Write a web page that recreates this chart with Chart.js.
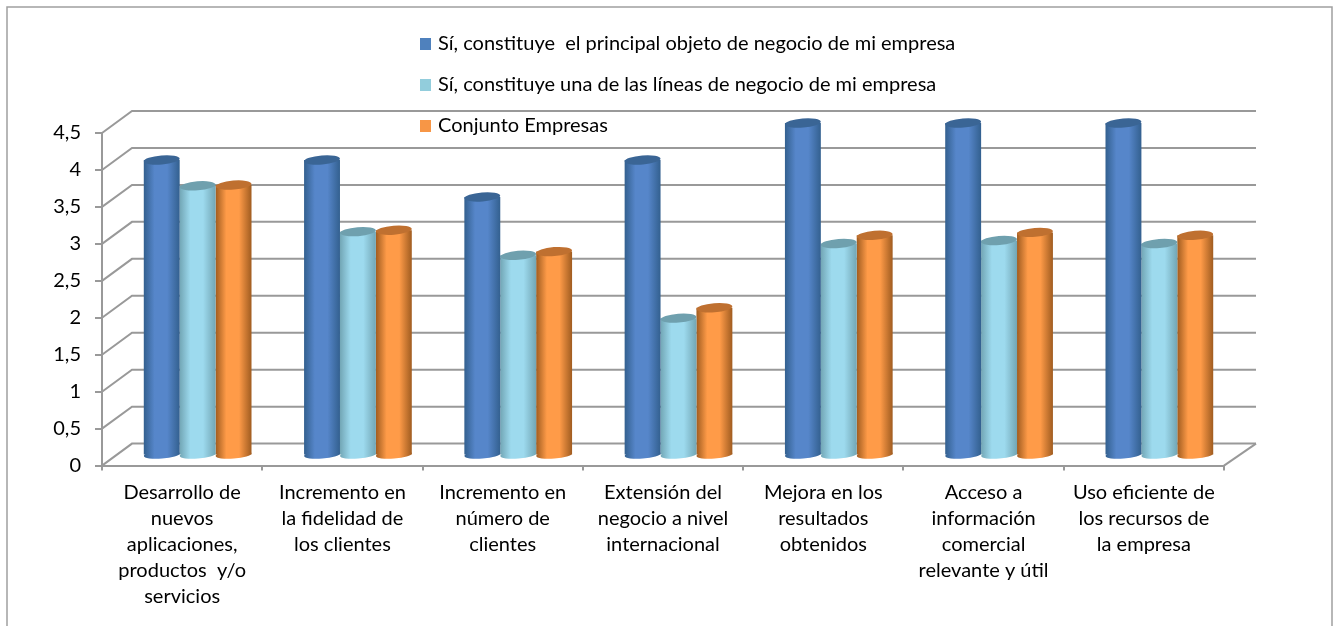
<!DOCTYPE html>
<html>
<head>
<meta charset="utf-8">
<script src="https://cdn.jsdelivr.net/npm/chart.js@4"></script>
<style>
  html, body { margin: 0; padding: 0; background: #fff; }
  canvas { display: block; }
</style>
</head>
<body>
<canvas id="chart" width="1338" height="626"></canvas>
<script>
const categories = [
  ['Desarrollo de', 'nuevos', 'aplicaciones,', 'productos  y/o', 'servicios'],
  ['Incremento en', 'la fidelidad de', 'los clientes'],
  ['Incremento en', 'número de', 'clientes'],
  ['Extensión del', 'negocio a nivel', 'internacional'],
  ['Mejora en los', 'resultados', 'obtenidos'],
  ['Acceso a', 'información', 'comercial', 'relevante y útil'],
  ['Uso eficiente de', 'los recursos de', 'la empresa']
];
const principal = [4, 4, 3.5, 4, 4.5, 4.5, 4.5];
const lineas = [3.65, 3.03, 2.71, 1.86, 2.87, 2.91, 2.87];
const conjunto = [3.66, 3.05, 2.76, 2.0, 2.98, 3.02, 2.98];

const FONT = 'Lato, Carlito, sans-serif';
const GREY = '#999999';
// how far the back wall sits behind the axes, bars stand about half way
const DEPTH_X = 30, DEPTH_Y = 22;

// edge, centre, top of each cylinder
const shades = [
  ['#33608f', '#5686ca', '#3a6595'],
  ['#72a6b5', '#9ddaee', '#6fa0ae'],
  ['#a05c20', '#ff9b48', '#bf7030']
];

const cylinders = {
  id: 'cylinders',
  beforeDatasetsDraw(chart) {
    const ctx = chart.ctx, y = chart.scales.y, area = chart.chartArea;
    // back wall
    ctx.save();
    ctx.strokeStyle = GREY;
    ctx.lineWidth = 2;
    y.ticks.forEach(t => {
      const py = y.getPixelForValue(t.value);
      ctx.beginPath();
      ctx.moveTo(area.left, py);
      ctx.lineTo(area.left + DEPTH_X, py - DEPTH_Y);
      ctx.lineTo(area.right + DEPTH_X + 2, py - DEPTH_Y);
      ctx.stroke();
    });
    ctx.beginPath();
    ctx.moveTo(area.right, area.bottom);
    ctx.lineTo(area.right + DEPTH_X + 2, area.bottom - DEPTH_Y);
    ctx.stroke();
    ctx.restore();

    ctx.save();
    ctx.translate(DEPTH_X / 2 + 0.5, -DEPTH_Y / 2 + 1);
  },
  beforeDatasetDraw(chart, args) {
    const ctx = chart.ctx, s = shades[args.index];
    chart.getDatasetMeta(args.index).data.forEach(bar => {
      const g = ctx.createLinearGradient(bar.x - bar.width / 2, 0, bar.x + bar.width / 2, 0);
      g.addColorStop(0, s[0]);
      g.addColorStop(0.3, s[1]);
      g.addColorStop(0.65, s[1]);
      g.addColorStop(1, s[0]);
      bar.options = Object.assign({}, bar.options, { backgroundColor: g });
    });
  },
  afterDatasetDraw(chart, args) {
    const ctx = chart.ctx, s = shades[args.index];
    chart.getDatasetMeta(args.index).data.forEach(bar => {
      ctx.fillStyle = bar.options.backgroundColor;
      ctx.beginPath();
      ctx.ellipse(bar.x, bar.base, bar.width / 2, 4, -0.08, 0, Math.PI * 2);
      ctx.fill();
      ctx.fillStyle = s[2];
      ctx.beginPath();
      ctx.ellipse(bar.x, bar.y, bar.width / 2, 4.5, -0.08, 0, Math.PI * 2);
      ctx.fill();
    });
  },
  afterDatasetsDraw(chart) {
    chart.ctx.restore();
  }
};

const frameAndLegend = {
  id: 'frameAndLegend',
  beforeDraw(chart) {
    const ctx = chart.ctx;
    ctx.save();
    ctx.strokeStyle = '#a0a0a0';
    ctx.lineWidth = 1.5;
    ctx.beginPath();
    ctx.moveTo(7, 626);
    ctx.lineTo(7, 7);
    ctx.lineTo(1332, 7);
    ctx.lineTo(1332, 626);
    ctx.stroke();
    ctx.restore();
  },
  afterDraw(chart) {
    const ctx = chart.ctx;
    ctx.save();
    ctx.font = '20px ' + FONT;
    ctx.textBaseline = 'middle';
    chart.data.datasets.forEach((d, i) => {
      const py = 44 + i * 41;
      ctx.fillStyle = d.backgroundColor;
      ctx.fillRect(420, py - 6, 11, 12);
      ctx.fillStyle = '#000';
      ctx.fillText(d.label, 438, py);
    });
    ctx.restore();
  }
};

new Chart(document.getElementById('chart').getContext('2d'), {
  type: 'bar',
  data: {
    labels: categories,
    datasets: [
      { label: 'Sí, constituye  el principal objeto de negocio de mi empresa', data: principal, backgroundColor: '#4f81bd', clip: false },
      { label: 'Sí, constituye una de las líneas de negocio de mi empresa', data: lineas, backgroundColor: '#92cddc', clip: false },
      { label: 'Conjunto Empresas', data: conjunto, backgroundColor: '#f79646', clip: false }
    ]
  },
  options: {
    responsive: false,
    animation: false,
    events: [],
    layout: { padding: { top: 133, right: 114, left: 0, bottom: 0 } },
    datasets: { bar: { categoryPercentage: 0.672, barPercentage: 1 } },
    plugins: { legend: { display: false }, tooltip: { enabled: false } },
    scales: {
      x: {
        afterFit(scale) { scale.height = 160.4; },
        grid: { drawOnChartArea: false, offset: true, color: GREY, lineWidth: 2, tickLength: 5 },
        border: { color: GREY, width: 2 },
        ticks: {
          color: '#000', maxRotation: 0, autoSkip: false, padding: 9,
          font: { family: FONT, size: 20, lineHeight: '26px' }
        }
      },
      y: {
        min: 0,
        max: 4.5,
        afterFit(scale) { scale.width = 102; },
        grid: { drawOnChartArea: false, color: GREY, lineWidth: 2, tickLength: 7 },
        border: { color: GREY, width: 2 },
        ticks: {
          stepSize: 0.5, color: '#000', padding: 14,
          font: { family: FONT, size: 20 },
          callback: v => String(v).replace('.', ',')
        }
      }
    }
  },
  plugins: [cylinders, frameAndLegend]
});
</script>
</body>
</html>
